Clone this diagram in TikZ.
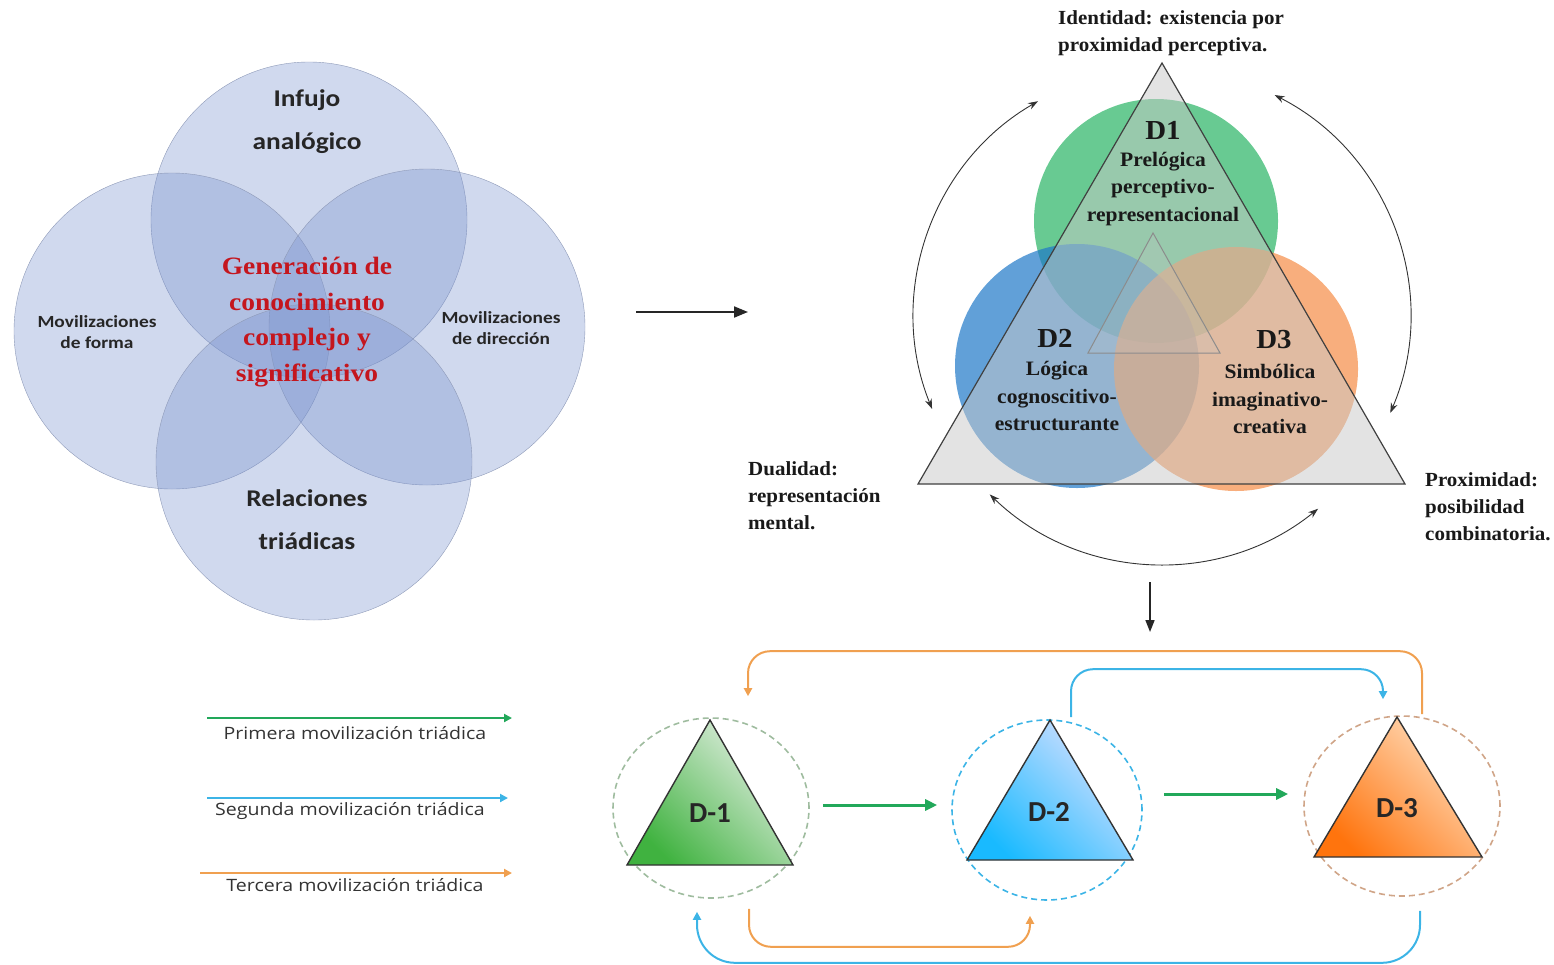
\documentclass[tikz,border=0pt]{standalone}
\usepackage{fontspec}
\usepackage{tikz}
\usetikzlibrary{arrows.meta, positioning, calc, shapes.geometric}
\usepackage{xcolor}
\newfontfamily\carlitoancho[FakeStretch=1.14]{Carlito}
\newfontfamily\carlito{Carlito}
\newfontfamily\serifancho[FakeStretch=1.1]{Liberation Serif}
\newfontfamily\libserif[FakeStretch=1.05]{Liberation Serif}
\newfontfamily\opensans[FakeStretch=1.15]{Open Sans}
\definecolor{vennfill}{HTML}{7891CD}
\definecolor{venndraw}{HTML}{8E9AB8}
\definecolor{rojo}{HTML}{C4161E}
\definecolor{dverde}{HTML}{28B464}
\definecolor{dazul}{HTML}{1E78C8}
\definecolor{dnaranja}{HTML}{F58C46}
\definecolor{trigris}{HTML}{C8C8C8}
\definecolor{movverde}{HTML}{22A85A}
\definecolor{movazul}{HTML}{3CB4E6}
\definecolor{movnaranja}{HTML}{F0A050}

\begin{document}
\begin{tikzpicture}[x=1pt, y=-1pt,
      venn/.style={circle, draw=venndraw, fill=vennfill, fill opacity=0.35, minimum size=316pt, inner sep=0pt},
      vtext/.style={font=\carlitoancho\bfseries\fontsize{24}{43}\selectfont, align=center, text=black!85},
      vsmall/.style={font=\carlitoancho\bfseries\fontsize{17}{21}\selectfont, align=center, text=black!85},
      dimcirc/.style={circle, minimum size=244pt, inner sep=0pt, fill opacity=0.7},
      dlabel/.style={font=\libserif\bfseries\fontsize{27.5}{28}\selectfont, text=black!90},
      dtext/.style={font=\libserif\bfseries\fontsize{20.5}{27.5}\selectfont, align=center, text=black!90},
      nota/.style={font=\libserif\bfseries\fontsize{20}{27}\selectfont, align=left, anchor=west, inner sep=0pt, text=black!90},
      arrow/.style={-{Triangle[length=14pt, width=11pt]}, line width=2pt, black!85},
      doble/.style={{Stealth[length=10pt, width=7pt]}-{Stealth[length=10pt, width=7pt]}, line width=0.9pt, black!80},
      anillo/.style={ellipse, dashed, dash pattern=on 6pt off 4pt, line width=1.6pt, minimum width=196pt, minimum height=180pt, inner sep=0pt},
      tlabel/.style={font=\carlito\bfseries\fontsize{29}{30}\selectfont, text=black!85},
      mov/.style={line width=2pt, rounded corners=22pt, -{Triangle[length=8pt, width=8pt]}},
      paso/.style={line width=3pt, movverde, -{Triangle[length=12pt, width=11pt]}},
      leyenda/.style={font=\opensans\fontsize{17}{20}\selectfont, text=black!80}
    ]
    \useasboundingbox (0,0) rectangle (1554,964);

    \node[venn] (vsup) at (309,220) {};
    \node[venn] (vizq) at (172,331) {};
    \node[venn] (vder) at (427,327) {};
    \node[venn] (vinf) at (314,462) {};
    \node[vtext] (infujo) at (307,122) {Infujo\\analógico};
    \node[vtext] (relac) at (307,520) {Relaciones\\triádicas};
    \node[vsmall] (forma) at (97,332) {Movilizaciones\\de forma};
    \node[vsmall] (direc) at (501,328) {Movilizaciones\\de dirección};
    \node[font=\serifancho\bfseries\fontsize{25}{35.5}\selectfont, align=center, text=rojo] (gen) at (307,322)
      {Generación de\\conocimiento\\complejo y\\significativo};

    \coordinate (flechaA) at (636,312);
    \coordinate (flechaB) at (748,312);
    \draw[arrow] (flechaA) -- (flechaB);

    \node[dimcirc, fill=dverde] (c1) at (1156,221) {};
    \node[dimcirc, fill=dazul] (c2) at (1077,366) {};
    \node[dimcirc, fill=dnaranja] (c3) at (1236,369) {};
    \coordinate (tA) at (1162,63);
    \coordinate (tB) at (918,484);
    \coordinate (tC) at (1405,484);
    \fill[trigris, fill opacity=0.5] (tA) -- (tB) -- (tC) -- cycle;
    \draw[black!75, line width=1.2pt] (tA) -- (tB) -- (tC) -- cycle;
    \draw[black!45, line width=1pt, fill=trigris, fill opacity=0.2] (1153,233) -- (1088,353) -- (1220,353) -- cycle;

    \node[dlabel] (d1) at (1163,130) {D1};
    \node[dtext] (d1t) at (1163,189) {Prelógica\\perceptivo-\\representacional};
    \node[dlabel] (d2) at (1055,338) {D2};
    \node[dtext] (d2t) at (1057,396) {Lógica\\cognoscitivo-\\estructurante};
    \node[dlabel] (d3) at (1274,340) {D3};
    \node[dtext] (d3t) at (1270,399) {Simbólica\\imaginativo-\\creativa};

    \node[nota] (ident) at (1058,33) {Identidad: existencia por\\proximidad perceptiva.};
    \node[nota] (dual) at (748,496) {Dualidad:\\representación\\mental.};
    \node[nota] (prox) at (1425,507) {Proximidad:\\posibilidad\\combinatoria.};

    \coordinate (centro) at (1162,316);
    \draw[doble] ([shift={(240:248)}]centro) arc[start angle=240, end angle=158, radius=248];
    \draw[doble] ([shift={(-63:248)}]centro) arc[start angle=-63, end angle=23, radius=248];
    \draw[doble] ([shift={(134:248)}]centro) arc[start angle=134, end angle=51, radius=248];

    \coordinate (bajaA) at (1150,582);
    \coordinate (bajaB) at (1150,632);
    \draw[arrow, line width=1.6pt, -{Triangle[length=12pt, width=9pt]}] (bajaA) -- (bajaB);

    \node[anillo, draw=black!25!green!25!gray!60] (r1) at (711,808) {};
    \node[anillo, draw=movazul, minimum width=190pt] (r2) at (1047,810) {};
    \node[anillo, draw=dnaranja!55!gray!75] (r3) at (1402,806) {};

    \shade[bottom color=green!60!black!75!white, top color=green!40!black!10!white, shading angle=-45, draw=black!80, line width=1.4pt]
      (710,720) -- (627,865) -- (793,865) -- cycle;
    \shade[bottom color=cyan!70!blue!90, top color=cyan!20!blue!15!white, shading angle=-45, draw=black!80, line width=1.4pt]
      (1050,720) -- (967,860) -- (1133,860) -- cycle;
    \shade[bottom color=orange!85!red!95!white, top color=orange!25!white, shading angle=-45, draw=black!80, line width=1.4pt]
      (1397,717) -- (1314,857) -- (1482,857) -- cycle;
    \node[tlabel] (t1) at (710,813) {D-1};
    \node[tlabel] (t2) at (1049,812) {D-2};
    \node[tlabel] (t3) at (1397,808) {D-3};

    \draw[paso] ([xshift=13pt,yshift=3pt]r1.east) -- ([xshift=-14pt,yshift=5pt]r2.west);
    \draw[paso] ([xshift=21pt,yshift=16pt]r2.east) -- ([xshift=-15pt,yshift=12pt]r3.west);
    \draw[mov, movnaranja] ([xshift=20pt,yshift=1pt]r3.north) -- ++(0,-63) -| ([xshift=37pt,yshift=21pt]r1.north);
    \draw[mov, movazul] ([xshift=24pt,yshift=2pt]r2.north) -- ++(0,-48) -| ([xshift=-19pt,yshift=16pt]r3.north);
    \draw[mov, movnaranja] ([xshift=38pt,yshift=-10pt]r1.south) -- ++(0,38) -| ([xshift=-17pt,yshift=-15pt]r2.south);
    \draw[mov, movazul, rounded corners=38pt] ([xshift=18pt,yshift=-14pt]r3.south) -- ++(0,52) -| ([xshift=-14pt,yshift=-13pt]r1.south);

    \coordinate (l1a) at (207,718);
    \coordinate (l1b) at (512,718);
    \coordinate (l2a) at (207,798);
    \coordinate (l2b) at (508,798);
    \coordinate (l3a) at (200,873);
    \coordinate (l3b) at (512,873);
    \draw[mov, movverde] (l1a) -- (l1b);
    \draw[mov, movazul] (l2a) -- (l2b);
    \draw[mov, movnaranja] (l3a) -- (l3b);
    \node[leyenda] (ley1) at (355,733) {Primera movilización triádica};
    \node[leyenda] (ley2) at (350,811) {Segunda movilización triádica};
    \node[leyenda] (ley3) at (355,885) {Tercera movilización triádica};
  \end{tikzpicture}
\end{document}
